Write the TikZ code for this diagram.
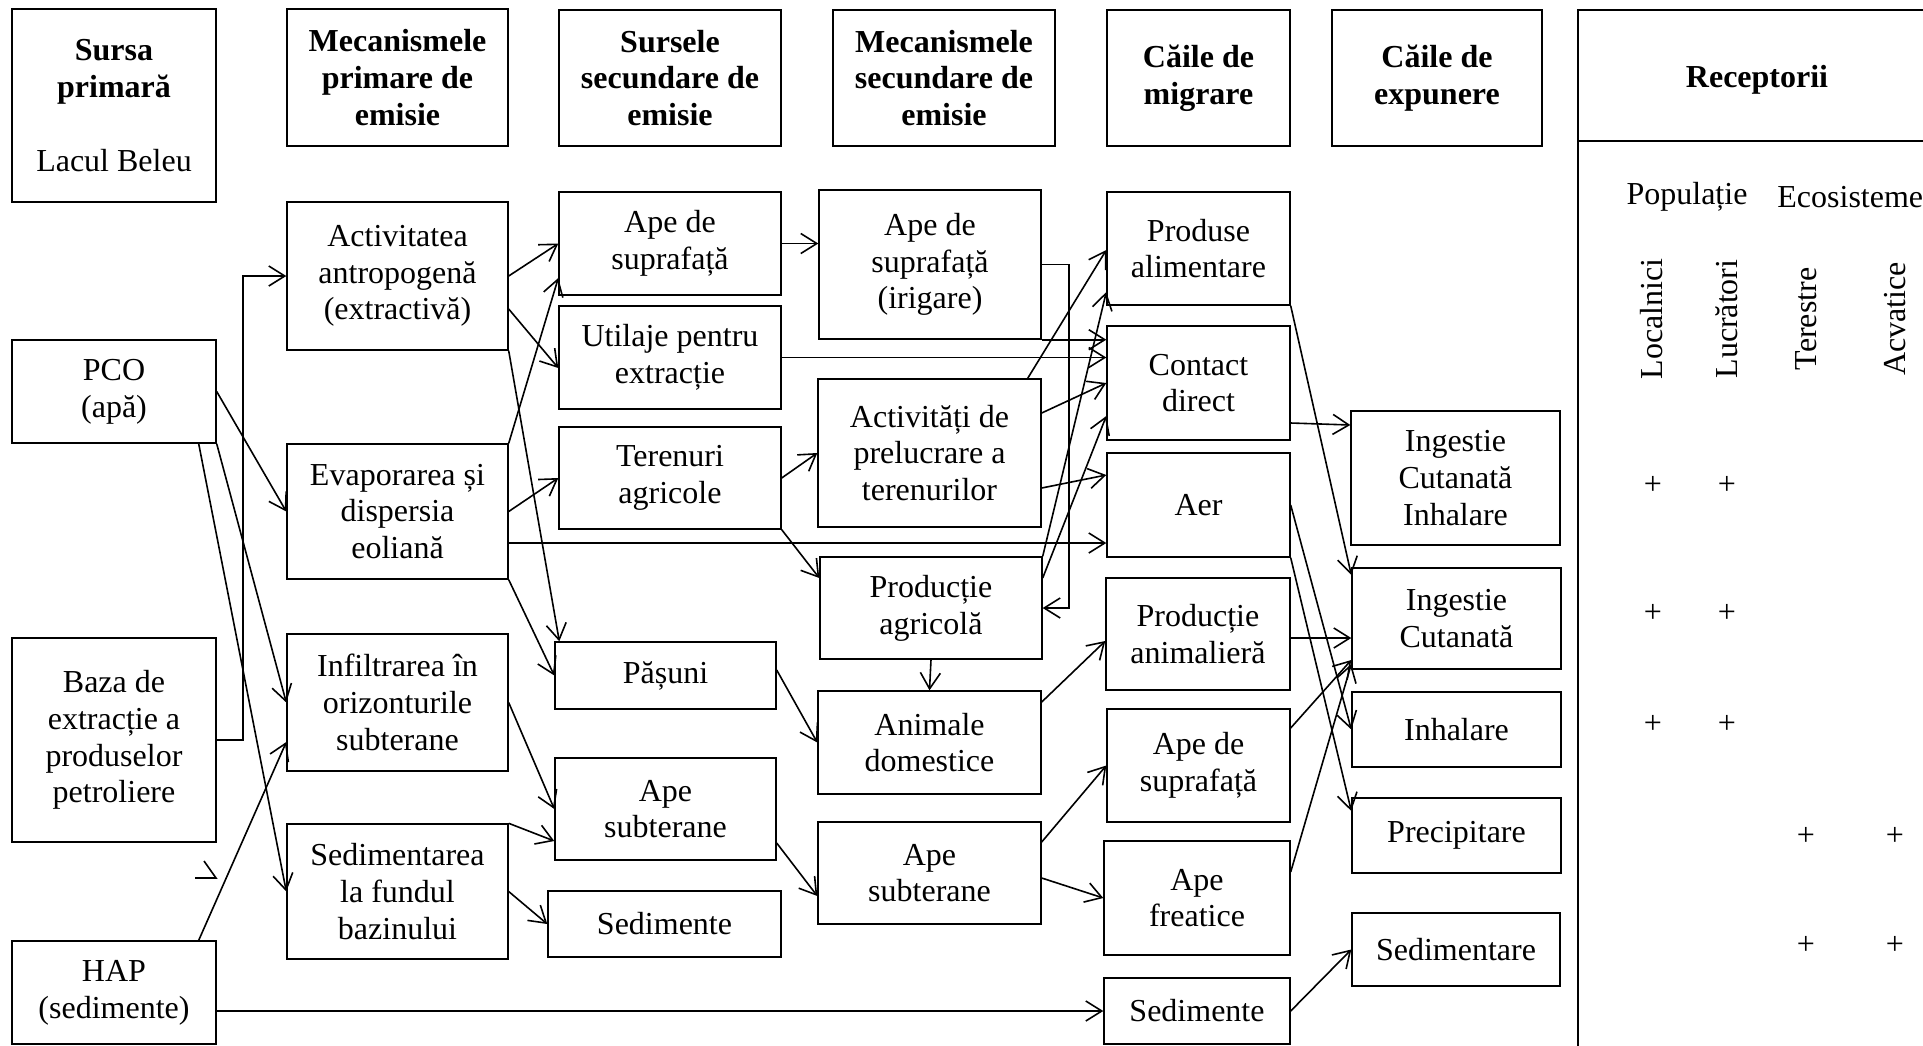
\documentclass[tikz,border=0pt]{standalone}
\usepackage{fontspec}
\setmainfont{Liberation Serif}
\usetikzlibrary{arrows.meta,calc}
\begin{document}
\begin{tikzpicture}[x=0.5pt,y=-0.5pt,
  every node/.style={font=\fontsize{16}{18.4}\selectfont},
  box/.style={draw, line width=0.7pt, inner sep=0pt, align=center},
  bx/.style n args={4}{minimum width={(#3-#1)*0.5pt}, minimum height={(#4-#2)*0.5pt}, at={({(#1+#3)/2},{(#2+#4)/2})}},
  hbox/.style={box, font=\fontsize{16}{18.4}\selectfont\bfseries},
  arr/.style={line width=0.8pt, -{Straight Barb[length=8pt,width=10pt]}},
  lbl/.style={inner sep=0pt}]
\useasboundingbox (0,0) rectangle (1923,1045);
% ---------- headers ----------
\node[box, bx={12}{9}{216}{202}] (s1h) {{\bfseries Sursa}\\{\bfseries primară}\\~\\Lacul Beleu};
\node[hbox, bx={287}{9}{508}{146}] (c2h) {Mecanismele\\primare de\\emisie};
\node[hbox, bx={559}{10}{781}{146}] (c3h) {Sursele\\secundare de\\emisie};
\node[hbox, bx={833}{10}{1055}{146}] (c4h) {Mecanismele\\secundare de\\emisie};
\node[hbox, bx={1107}{10}{1290}{146}] (c5h) {Căile de\\migrare};
\node[hbox, bx={1332}{10}{1542}{146}] (c6h) {Căile de\\expunere};
% ---------- column 1 ----------
\node[box, bx={12}{340}{216}{443}] (pco) {PCO\\(apă)};
\node[box, bx={12}{638}{216}{842}] (baza) {Baza de\\extracție a\\produselor\\petroliere};
\node[box, bx={12}{941}{216}{1044}] (hap) {HAP\\(sedimente)};
% ---------- column 2 ----------
\node[box, bx={287}{202}{508}{350}] (activ) {Activitatea\\antropogenă\\(extractivă)};
\node[box, bx={287}{444}{508}{579}] (evap) {Evaporarea și\\dispersia\\eoliană};
\node[box, bx={287}{634}{508}{771}] (infil) {Infiltrarea în\\orizonturile\\subterane};
\node[box, bx={287}{824}{508}{959}] (sedim) {Sedimentarea\\la fundul\\bazinului};
% ---------- column 3 ----------
\node[box, bx={559}{192}{781}{295}] (apesup3) {Ape de\\suprafață};
\node[box, bx={559}{306}{781}{409}] (util) {Utilaje pentru\\extracție};
\node[box, bx={559}{427}{781}{529}] (teren) {Terenuri\\agricole};
\node[box, bx={555}{642}{776}{709}] (pasuni) {Pășuni};
\node[box, bx={555}{758}{776}{860}] (apesub3) {Ape\\subterane};
\node[box, bx={548}{891}{781}{957}] (sed3) {Sedimente};
% ---------- column 4 ----------
\node[box, bx={819}{190}{1041}{339}] (irig) {Ape de\\suprafață\\(irigare)};
\node[box, bx={818}{379}{1041}{527}] (prel) {Activități de\\prelucrare a\\terenurilor};
\node[box, bx={820}{557}{1042}{659}] (prodagr) {Producție\\agricolă};
\node[box, bx={818}{691}{1041}{794}] (animale) {Animale\\domestice};
\node[box, bx={818}{822}{1041}{924}] (apesub4) {Ape\\subterane};
% ---------- column 5 ----------
\node[box, bx={1107}{192}{1290}{305}] (produse) {Produse\\alimentare};
\node[box, bx={1107}{326}{1290}{440}] (contact) {Contact\\direct};
\node[box, bx={1107}{453}{1290}{557}] (aer) {Aer};
\node[box, bx={1106}{578}{1290}{690}] (prodanim) {Producție\\animalieră};
\node[box, bx={1107}{709}{1290}{822}] (apesup5) {Ape de\\suprafață};
\node[box, bx={1104}{841}{1290}{955}] (apefr) {Ape\\freatice};
\node[box, bx={1104}{978}{1290}{1044}] (sed5) {Sedimente};
% ---------- column 6 ----------
\node[box, bx={1351}{411}{1560}{545}] (ing1) {Ingestie\\Cutanată\\Inhalare};
\node[box, bx={1352}{568}{1561}{669}] (ing2) {Ingestie\\Cutanată};
\node[box, bx={1352}{692}{1561}{767}] (inhal) {Inhalare};
\node[box, bx={1352}{798}{1561}{873}] (precip) {Precipitare};
\node[box, bx={1352}{913}{1560}{986}] (sedm) {Sedimentare};
% ---------- receptor panel ----------
\draw[line width=0.7pt] (1578,1050) -- (1578,10) -- (1930,10);
\draw[line width=0.7pt] (1578,141) -- (1930,141);
\node[lbl, font=\fontsize{16}{18.4}\selectfont\bfseries] (rec) at (1757,80) {Receptorii};
\node[lbl] (pop) at (1687,197) {Populație};
\node[lbl, anchor=west] (eco) at (1777,197) {Ecosisteme};
\node[lbl, rotate=90] (loc) at (1652,319) {Localnici};
\node[lbl, rotate=90] (lucr) at (1727,319) {Lucrători};
\node[lbl, rotate=90] (ter) at (1806,319) {Terestre};
\node[lbl, rotate=90] (acv) at (1895,319) {Acvatice};
\node[lbl] (p1a) at (1653,485) {+};
\node[lbl] (p1b) at (1727,485) {+};
\node[lbl] (p2a) at (1653,613) {+};
\node[lbl] (p2b) at (1727,613) {+};
\node[lbl] (p3a) at (1653,724) {+};
\node[lbl] (p3b) at (1727,724) {+};
\node[lbl] (p4a) at (1806,836) {+};
\node[lbl] (p4b) at (1895,836) {+};
\node[lbl] (p5a) at (1806,945) {+};
\node[lbl] (p5b) at (1895,945) {+};
% ---------- connectors ----------
\draw[arr] (baza.east) -- ++(26,0) |- (activ.west);
\draw[arr] (pco.east) -- (evap.west);
\draw[arr] (pco.south east) -- (infil.west);
\draw[arr] ($(pco.south east)+(-18,0)$) -- (sedim.west);
\draw[arr] ($(hap.north east)+(-18,0)$) -- (infil.west |- 0,742);
\draw[arr] (hap.east |- sed5.west) -- (sed5.west);
\draw[line width=0.8pt] (204,861) -- (216,878) -- (195,878);
\draw[arr] (activ.east) -- (apesup3.west);
\draw[arr] (activ.east |- 0,309) -- (util.west |- 0,368);
\draw[arr] (activ.south east) -- ($(pasuni.north west)+(5,0)$);
\draw[arr] (evap.north east) -- (apesup3.west |- 0,278);
\draw[arr] (evap.east) -- (teren.west);
\draw[arr] (evap.east |- 0,543) -- (aer.west |- 0,543);
\draw[arr] (evap.south east) -- (pasuni.west);
\draw[arr] (infil.east) -- (apesub3.west);
\draw[arr] (sedim.north east) -- (apesub3.west |- 0,841);
\draw[arr] (sedim.east) -- (sed3.west);
\draw[arr] (apesup3.east) -- (apesup3.east -| irig.west);
\draw[arr] (teren.east) -- (prel.west);
\draw[arr] (teren.south east) -- (prodagr.west |- 0,578);
\draw[arr] (pasuni.east |- 0,670) -- (animale.west);
\draw[arr] (apesub3.east |- 0,843) -- (apesub4.west |- 0,896);
\draw[arr] (prodagr.south) -- (animale.north);
\draw[arr] (util.east) -- (util.east -| contact.west);
\draw[arr] (irig.east) -- ++(27,0) |- (prodagr.east);
\draw[arr] (irig.south east) -- (contact.west |- irig.south east);
\draw[arr] ($(prel.north east)+(-14,0)$) -- (produse.west |- 0,250);
\draw[arr] (prel.east |- 0,413) -- (contact.west);
\draw[arr] (prel.east |- 0,488) -- (aer.west |- 0,475);
\draw[arr] (prodagr.north east) -- (produse.west |- 0,292);
\draw[arr] (prodagr.east |- 0,578) -- (contact.west |- 0,416);
\draw[arr] (animale.east |- 0,702) -- (prodanim.west |- 0,641);
\draw[arr] (apesub4.east |- 0,842) -- (apesup5.west);
\draw[arr] (apesub4.east |- 0,878) -- (apefr.west);
\draw[arr] (produse.south east) -- (ing2.west |- 0,575);
\draw[arr] (contact.east |- 0,423) -- (ing1.west |- 0,425);
\draw[arr] (aer.east) -- (inhal.west);
\draw[arr] (aer.south east) -- (precip.west |- 0,811);
\draw[arr] (prodanim.east |- 0,638) -- (ing2.west |- 0,638);
\draw[arr] (apesup5.east |- 0,728) -- (ing2.west |- 0,660);
\draw[arr] (apefr.east |- 0,872) -- (ing2.west |- 0,664);
\draw[arr] (sed5.east) -- (sedm.west);
\end{tikzpicture}
\end{document}
